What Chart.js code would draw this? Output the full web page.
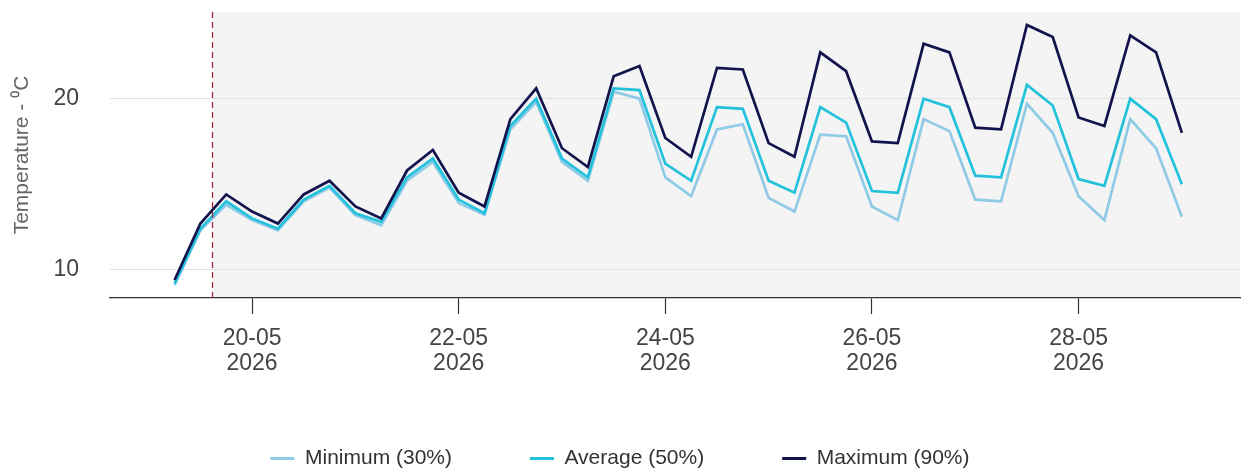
<!DOCTYPE html>
<html>
<head>
<meta charset="utf-8">
<script src="https://cdn.jsdelivr.net/npm/chart.js@4.4.1/dist/chart.umd.min.js"></script>
<style>
  html, body { margin: 0; padding: 0; background: #fff; }
  #wrap { width: 1244px; height: 468px; }
</style>
</head>
<body>
<div id="wrap"><canvas id="chart"></canvas></div>
<script>
// forecast time stamps (6-hourly)
const times = [
  '2026-05-19 06:00', '2026-05-19 12:00', '2026-05-19 18:00',
  '2026-05-20 00:00', '2026-05-20 06:00', '2026-05-20 12:00', '2026-05-20 18:00',
  '2026-05-21 00:00', '2026-05-21 06:00', '2026-05-21 12:00', '2026-05-21 18:00',
  '2026-05-22 00:00', '2026-05-22 06:00', '2026-05-22 12:00', '2026-05-22 18:00',
  '2026-05-23 00:00', '2026-05-23 06:00', '2026-05-23 12:00', '2026-05-23 18:00',
  '2026-05-24 00:00', '2026-05-24 06:00', '2026-05-24 12:00', '2026-05-24 18:00',
  '2026-05-25 00:00', '2026-05-25 06:00', '2026-05-25 12:00', '2026-05-25 18:00',
  '2026-05-26 00:00', '2026-05-26 06:00', '2026-05-26 12:00', '2026-05-26 18:00',
  '2026-05-27 00:00', '2026-05-27 06:00', '2026-05-27 12:00', '2026-05-27 18:00',
  '2026-05-28 00:00', '2026-05-28 06:00', '2026-05-28 12:00', '2026-05-28 18:00',
  '2026-05-29 00:00'
];

const minimum = [
  9.1, 12.3, 13.8, 12.9, 12.3, 14.0, 14.8, 13.2, 12.6, 15.2,
  16.3, 13.9, 13.2, 18.2, 19.8, 16.3, 15.2, 20.4, 20.0, 15.4,
  14.3, 18.2, 18.5, 14.2, 13.4, 17.9, 17.8, 13.7, 12.9, 18.8,
  18.1, 14.1, 14.0, 19.7, 18.0, 14.3, 12.9, 18.8, 17.1, 13.1
];
const average = [
  9.2, 12.4, 14.0, 13.0, 12.4, 14.1, 14.9, 13.3, 12.8, 15.4,
  16.5, 14.1, 13.3, 18.4, 20.0, 16.5, 15.4, 20.6, 20.5, 16.2,
  15.2, 19.5, 19.4, 15.2, 14.5, 19.5, 18.6, 14.6, 14.5, 20.0,
  19.5, 15.5, 15.4, 20.8, 19.6, 15.3, 14.9, 20.0, 18.8, 15.0
];
const maximum = [
  9.4, 12.7, 14.4, 13.4, 12.7, 14.4, 15.2, 13.7, 13.0, 15.8,
  17.0, 14.5, 13.7, 18.8, 20.6, 17.1, 16.0, 21.3, 21.9, 17.7,
  16.6, 21.8, 21.7, 17.4, 16.6, 22.7, 21.6, 17.5, 17.4, 23.2,
  22.7, 18.3, 18.2, 24.3, 23.6, 18.9, 18.4, 23.7, 22.7, 18.0
];

const tickDates = ['2026-05-20 00:00', '2026-05-22 00:00', '2026-05-24 00:00', '2026-05-26 00:00', '2026-05-28 00:00'];
const yTicks = [10, 20];
const nowTime = '2026-05-19 14:40';
const xRange = ['2026-05-18 15:00', '2026-05-29 13:30'];
const yRange = [8.35, 25.06];

const toMs = s => Date.parse(s.replace(' ', 'T') + ':00Z');
const pad2 = n => String(n).padStart(2, '0');

const FONT = "'Liberation Sans', Arial, sans-serif";

function series(values) {
  return values.map((v, i) => ({ x: toMs(times[i]), y: v }));
}

// grey forecast area + dashed "now" line
const forecastArea = {
  id: 'forecastArea',
  beforeDraw(chart) {
    const { ctx, chartArea: a, scales: { x } } = chart;
    const nx = x.getPixelForValue(toMs(nowTime));
    ctx.save();
    ctx.fillStyle = '#f4f4f4';
    ctx.fillRect(nx, a.top, a.right - nx, a.bottom - a.top);
    ctx.restore();
  },
  afterDatasetsDraw(chart) {
    const { ctx, chartArea: a, scales: { x } } = chart;
    const nx = Math.round(x.getPixelForValue(toMs(nowTime))) + 0.5;
    ctx.save();
    ctx.strokeStyle = '#a82a3e';
    ctx.lineWidth = 1.3;
    ctx.setLineDash([6, 4]);
    ctx.beginPath();
    ctx.moveTo(nx, a.top);
    ctx.lineTo(nx, a.bottom + 4);
    ctx.stroke();
    ctx.restore();
  }
};

new Chart(document.getElementById('chart'), {
  type: 'line',
  data: {
    datasets: [
      { label: 'Minimum (30%)', data: series(minimum), borderColor: '#8fcae6', backgroundColor: '#8fcae6', order: 2 },
      { label: 'Average (50%)', data: series(average), borderColor: '#22c1dc', backgroundColor: '#22c1dc', order: 1 },
      { label: 'Maximum (90%)', data: series(maximum), borderColor: '#12134c', backgroundColor: '#12134c', order: 0 }
    ]
  },
  options: {
    responsive: true,
    maintainAspectRatio: false,
    animation: false,
    layout: { padding: { top: 12, right: 4, left: 0, bottom: -11 } },
    elements: {
      line: { borderWidth: 2.7, tension: 0 },
      point: { radius: 0, hoverRadius: 0, borderWidth: 3 }
    },
    scales: {
      x: {
        type: 'linear',
        min: toMs(xRange[0]),
        max: toMs(xRange[1]),
        afterBuildTicks: s => { s.ticks = tickDates.map(d => ({ value: toMs(d) })); },
        afterFit: s => { s.height = 72; s.paddingLeft = 0; s.paddingRight = 0; },
        grid: { drawOnChartArea: false, drawTicks: true, tickLength: 16, color: '#333', tickWidth: 1.2 },
        border: { display: true, color: '#333', width: 1.3 },
        ticks: {
          autoSkip: false,
          maxRotation: 0,
          padding: 12,
          color: '#444',
          font: { family: FONT, size: 23, lineHeight: 1.1 },
          callback: v => {
            const d = new Date(v);
            return [pad2(d.getUTCDate()) + '-' + pad2(d.getUTCMonth() + 1), String(d.getUTCFullYear())];
          }
        }
      },
      y: {
        min: yRange[0],
        max: yRange[1],
        afterBuildTicks: s => { s.ticks = yTicks.map(v => ({ value: v })); },
        afterFit: s => { s.width = 110; s.paddingTop = 0; s.paddingBottom = 0; },
        grid: { color: '#e2e2e2', drawTicks: false, lineWidth: 1 },
        border: { display: false },
        ticks: { padding: 31, color: '#444', font: { family: FONT, size: 23 } },
        title: {
          display: true,
          text: 'Temperature - \u2070C',
          color: '#666',
          padding: { top: 10, bottom: 0 },
          font: { family: FONT, size: 21, weight: 'normal' }
        }
      }
    },
    plugins: {
      tooltip: { enabled: false },
      legend: {
        position: 'bottom',
        labels: {
          usePointStyle: true,
          pointStyle: 'line',
          pointStyleWidth: 24,
          padding: 78,
          color: '#333',
          font: { family: FONT, size: 21 },
          sort: (a, b) => a.datasetIndex - b.datasetIndex
        }
      }
    }
  },
  plugins: [forecastArea]
});
</script>
</body>
</html>
